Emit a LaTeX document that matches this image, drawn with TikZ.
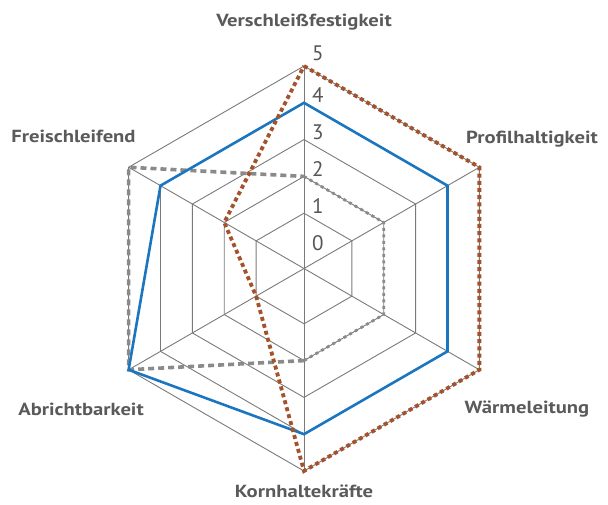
\documentclass[tikz,border=0pt]{standalone}
\usepackage{fontspec}
\setmainfont{PT Sans}
\newfontfamily\lblfont[FakeStretch=1.18]{PT Sans Bold}
\definecolor{gridgray}{HTML}{7A7A7A}
\definecolor{labelgray}{HTML}{5A5A5A}
\definecolor{numgray}{HTML}{555555}
\definecolor{serblue}{HTML}{1C75BF}
\definecolor{serbrown}{HTML}{A3522B}
\definecolor{sergray}{HTML}{8A8A8A}
\begin{document}
\begin{tikzpicture}[x=1pt,y=1pt,
  gridline/.style={draw=gridgray, line width=0.9pt},
  lbl/.style={font=\lblfont\fontsize{17.5}{20}\selectfont, text=labelgray, inner sep=0pt, anchor=base},
  num/.style={font=\fontsize{21}{24}\selectfont, text=numgray, inner sep=0pt, anchor=base west},
  blueser/.style={draw=serblue, line width=2.6pt, line join=miter},
  brownser/.style={draw=serbrown, line width=3.8pt, dash pattern=on 4pt off 3.2pt},
  graywide/.style={draw=sergray, line width=3.6pt, dash pattern=on 6pt off 4pt},
  graythin/.style={draw=sergray, line width=2.8pt, dash pattern=on 3pt off 3.5pt}]
\useasboundingbox (0,0) rectangle (608,-504);
\begin{scope}[shift={(304,-268.5)}]
  % grid rings
  \foreach \r in {55.3,92.1,128.9,165.7,202.5}
    \draw[gridline] (90:\r) -- (30:\r) -- (-30:\r) -- (-90:\r) -- (210:\r) -- (150:\r) -- cycle;
  \foreach \a in {90,30,-30,-90,210,150}
    \draw[gridline] (0,0) -- (\a:202.5);
  % data coordinates
  \coordinate (g1) at (90:92.1);
  \coordinate (g2) at (30:92.1);
  \coordinate (g3) at (-30:92.1);
  \coordinate (g4) at (-90:92.1);
  \coordinate (g5) at (210:202.5);
  \coordinate (g6) at (150:202.5);
  \coordinate (b1) at (90:165.7);
  \coordinate (b2) at (30:165.7);
  \coordinate (b3) at (-30:165.7);
  \coordinate (b4) at (-90:165.7);
  \coordinate (b5) at (210:202.5);
  \coordinate (b6) at (150:165.7);
  \coordinate (r1) at (90:202.5);
  \coordinate (r2) at (30:202.5);
  \coordinate (r3) at (-30:202.5);
  \coordinate (r4) at (-90:202.5);
  \coordinate (r5) at (210:55.3);
  \coordinate (r6) at (150:92.1);
  % series
  \draw[graythin] (g1) -- (g2) -- (g3) -- (g4);
  \draw[graywide] (g4) -- (g5) -- (g6) -- (g1);
  \draw[blueser] (b1) -- (b2) -- (b3) -- (b4) -- (b5) -- (b6) -- cycle;
  \draw[brownser] (r1) -- (r2) -- (r3) -- (r4) -- (r5) -- (r6) -- cycle;
  % scale numbers
  \node[num] (n0) at (8,18.5) {0};
  \node[num] (n1) at (8,55.3) {1};
  \node[num] (n2) at (8,92.1) {2};
  \node[num] (n3) at (8,128.9) {3};
  \node[num] (n4) at (8,165.7) {4};
  \node[num] (n5) at (8,208.5) {5};
\end{scope}
% axis labels
\node[lbl] (lv) at (304,-26) {Verschleißfestigkeit};
\node[lbl] (lp) at (532,-143) {Profilhaltigkeit};
\node[lbl] (lw) at (527,-413) {Wärmeleitung};
\node[lbl] (lk) at (304,-497) {Kornhaltekräfte};
\node[lbl] (la) at (81,-415) {Abrichtbarkeit};
\node[lbl] (lf) at (73.5,-142) {Freischleifend};
\end{tikzpicture}
\end{document}
